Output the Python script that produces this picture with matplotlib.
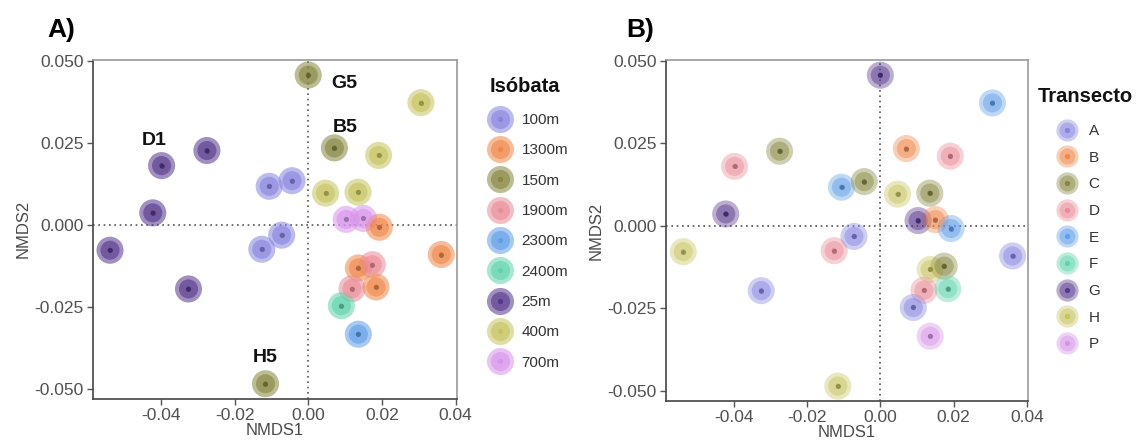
import matplotlib
matplotlib.use("Agg")
import matplotlib.pyplot as plt
from matplotlib.lines import Line2D

plt.rcParams["font.family"] = ["Liberation Sans", "DejaVu Sans"]

# NMDS ordination scores for each sample
nmds1 = [0.0000, 0.0306, 0.0071, 0.0191, -0.0398, -0.0275, -0.0106, -0.0044,
         0.0047, 0.0135, -0.0422, 0.0103, 0.0150, 0.0193, -0.0538, -0.0126,
         -0.0072, 0.0361, 0.0136, 0.0174, 0.0119, 0.0184, -0.0325, 0.0090,
         0.0136, -0.0116]
nmds2 = [0.0456, 0.0372, 0.0234, 0.0211, 0.0180, 0.0226, 0.0117, 0.0134,
         0.0096, 0.0099, 0.0036, 0.0016, 0.0019, -0.0008, -0.0078, -0.0075,
         -0.0032, -0.0091, -0.0132, -0.0122, -0.0195, -0.0190, -0.0196, -0.0247,
         -0.0334, -0.0485]
isobata = ["150m", "400m", "150m", "400m", "25m", "25m", "100m", "100m",
           "400m", "400m", "25m", "700m", "700m", "1300m", "25m", "100m",
           "100m", "1300m", "1300m", "1900m", "1900m", "1300m", "25m", "2400m",
           "2300m", "150m"]
transecto = ["G", "E", "B", "D", "D", "C", "E", "C",
             "H", "C", "G", "G", "B", "E", "H", "D",
             "A", "A", "H", "C", "D", "F", "A", "A",
             "P", "H"]
muestras = ["G5", "", "B5", "", "D1", "", "", "",
            "", "", "", "", "", "", "", "",
            "", "", "", "", "", "", "", "",
            "", "H5"]

iso_levels = ["100m", "1300m", "150m", "1900m", "2300m", "2400m", "25m", "400m", "700m"]
tra_levels = ["A", "B", "C", "D", "E", "F", "G", "H", "P"]
palette = ["#8683df", "#f0874a", "#85853f", "#ea8b98", "#5f9ee8",
           "#5fd3ab", "#55368c", "#c6c35e", "#d893ea"]

xticks = [-0.04, -0.02, 0.00, 0.02, 0.04]
yticks = [-0.050, -0.025, 0.000, 0.025, 0.050]

# label offsets (points) for the annotated samples
label_offsets = {"G5": (26, -6), "B5": (8, 15), "D1": (-5, 18), "H5": (0, 19)}

W, H = 1138, 441
fig = plt.figure(figsize=(W / 100, H / 100), dpi=100)

S_OUT, S_IN, S_DOT = 380, 190, 14


def fx(px):
    return px / W


def fy(py):
    return 1 - py / H


def draw_panel(ax, groups, levels, alpha_out, alpha_in):
    cmap = dict(zip(levels, palette))
    cols = [cmap[g] for g in groups]
    ax.axhline(0, color="#555555", lw=1.2, ls=(0, (1, 2.2)), zorder=1)
    ax.axvline(0, color="#555555", lw=1.2, ls=(0, (1, 2.2)), zorder=1)
    ax.scatter(nmds1, nmds2, s=S_OUT, c=cols, alpha=alpha_out, linewidths=0, zorder=2)
    ax.scatter(nmds1, nmds2, s=S_IN, c=cols, alpha=alpha_in, linewidths=0, zorder=3)
    ax.scatter(nmds1, nmds2, s=S_DOT, c=cols, alpha=0.95, linewidths=0, zorder=4)
    ax.scatter(nmds1, nmds2, s=S_DOT, c="#000000", alpha=0.25, linewidths=0, zorder=5)
    ax.set_xlim(-0.0585, 0.0403)
    ax.set_ylim(-0.0530, 0.0502)
    ax.set_xticks(xticks)
    ax.set_xticklabels([f"{t:.2f}" for t in xticks])
    ax.set_yticks(yticks)
    ax.set_yticklabels([f"{t:.3f}" for t in yticks])
    ax.tick_params(axis="both", labelsize=12.5, labelcolor="#505050", color="#555555",
                   length=4, width=1, pad=2.5)
    ax.set_xlabel("NMDS1", fontsize=12, color="#4a4a4a", labelpad=0)
    ax.set_ylabel("NMDS2", fontsize=12, color="#4a4a4a", labelpad=3)
    for side in ("left", "bottom"):
        ax.spines[side].set_color("#444444")
        ax.spines[side].set_linewidth(1.2)
    for side in ("top", "right"):
        ax.spines[side].set_color("#9a9a9a")
        ax.spines[side].set_linewidth(1.2)
    return cmap


def add_legend(cmap, levels, alpha_out, alpha_in, title, title_xy, anchor_xy,
               spacing, ms_out, ms_in):
    handles = []
    for lev in levels:
        c = cmap[lev]
        handles.append((
            Line2D([], [], ls="none", marker="o", ms=ms_out, mfc=c, mec="none", alpha=alpha_out),
            Line2D([], [], ls="none", marker="o", ms=ms_in, mfc=c, mec="none", alpha=alpha_in),
            Line2D([], [], ls="none", marker="o", ms=3.8, mfc=c, mec="none", alpha=0.95)))
    fig.text(fx(title_xy[0]), fy(title_xy[1]), title, fontsize=14.5, fontweight="bold",
             color="#111111", ha="left", va="center")
    fig.legend(handles, levels, loc="upper left",
               bbox_to_anchor=(fx(anchor_xy[0]), fy(anchor_xy[1])),
               frameon=False, fontsize=11, labelcolor="#333333",
               labelspacing=spacing, handletextpad=0.6, handlelength=1.6,
               borderaxespad=0, borderpad=0)


axA = fig.add_axes([fx(92.7), fy(398.5), 364 / W, 338.5 / H])
cmapA = draw_panel(axA, isobata, iso_levels, 0.55, 0.6)
add_legend(cmapA, iso_levels, 0.55, 0.6, "Isóbata", (490, 86), (488, 113),
           1.07, 19.5, 13.8)
for x, y, lab in zip(nmds1, nmds2, muestras):
    if lab:
        dx, dy = label_offsets[lab]
        axA.annotate(lab, (x, y), xytext=(dx, dy), textcoords="offset points",
                     ha="center", va="center", fontsize=14, fontweight="bold",
                     color="#111111", zorder=6)

axB = fig.add_axes([fx(666), fy(401), 362 / W, 341 / H])
cmapB = draw_panel(axB, transecto, tra_levels, 0.4, 0.45)
add_legend(cmapB, tra_levels, 0.4, 0.45, "Transecto", (1038, 96), (1055, 124),
           0.83, 16, 11.5)

fig.text(fx(47), fy(30), "A)", fontsize=19, fontweight="bold", va="center")
fig.text(fx(626), fy(30), "B)", fontsize=19, fontweight="bold", va="center")

fig.savefig("out.png", dpi=100, facecolor="white")
